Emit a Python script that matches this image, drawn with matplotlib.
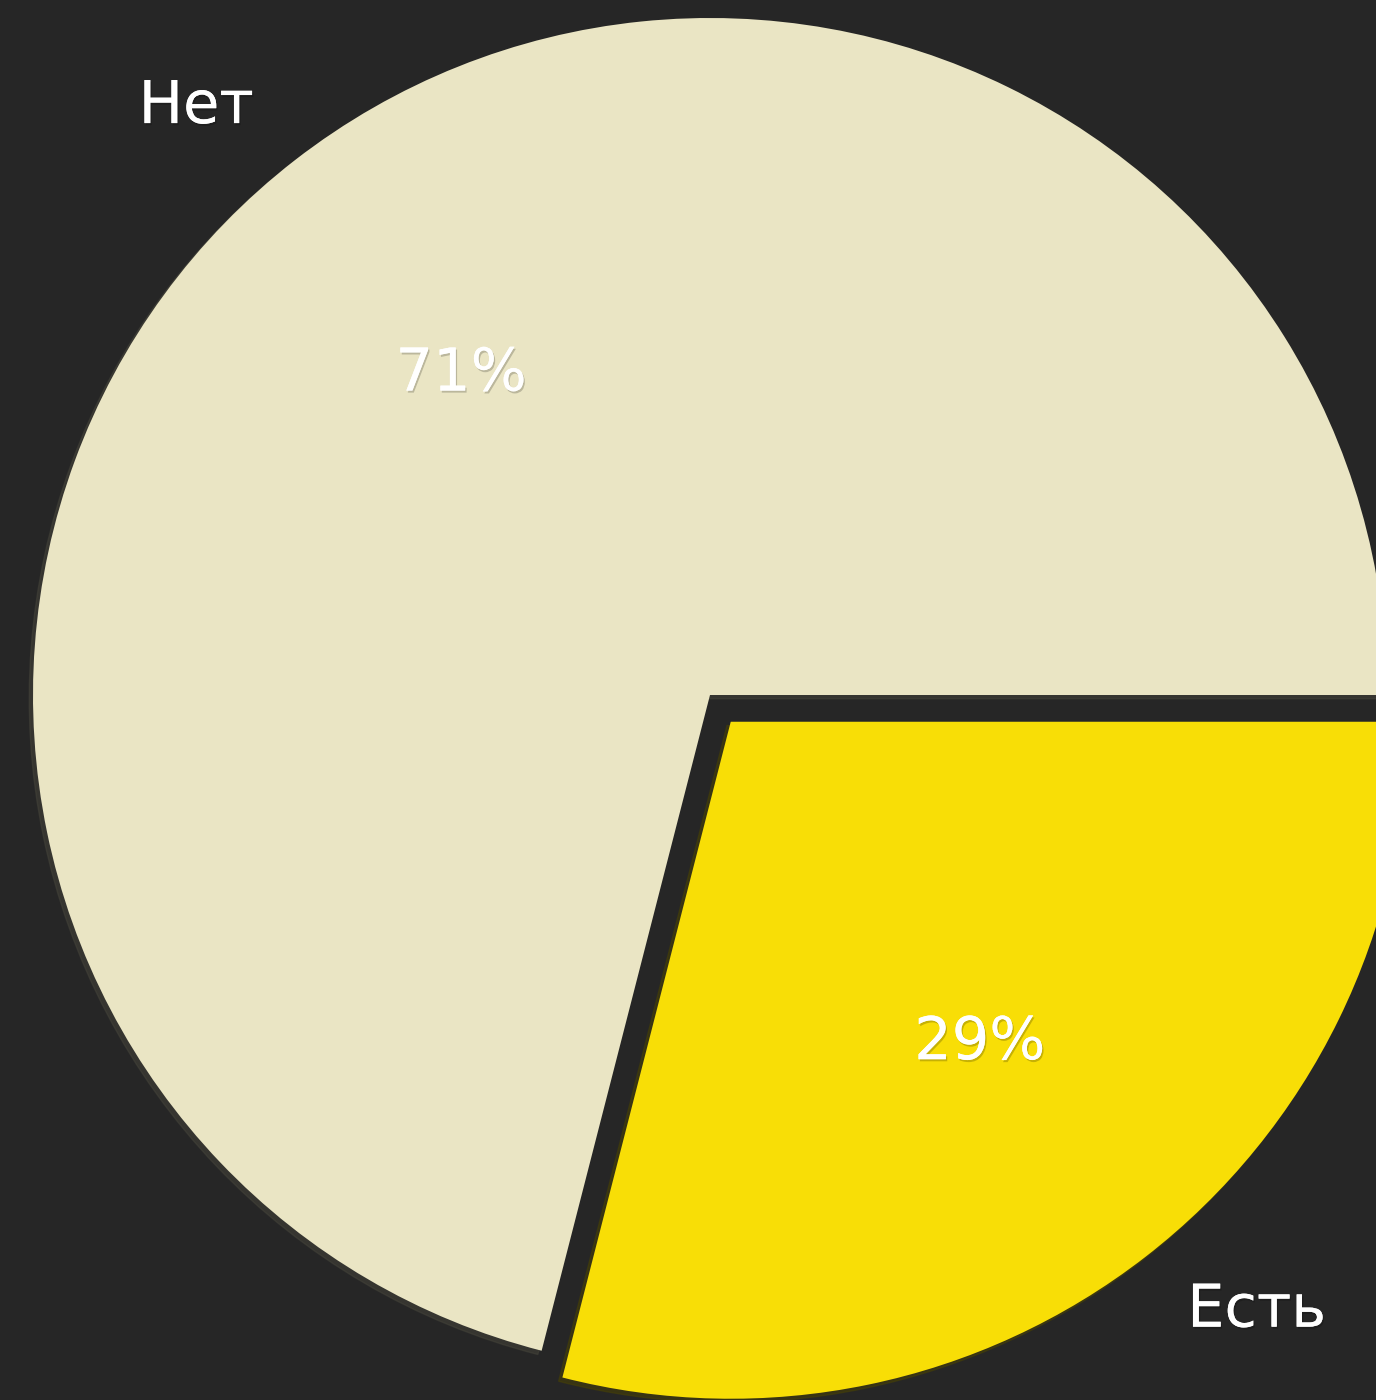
# Pie chart: share of "Есть" vs "Нет" on a dark background

import matplotlib
matplotlib.use("Agg")
import matplotlib.pyplot as plt
import matplotlib.patheffects as pe

# Data
labels = ["Нет", "Есть"]
shares = [71, 29]
explode = [0, 0.05]
colors = ["#eae5c4", "#f8de06"]
bg_color = "#262626"

fig = plt.figure(figsize=(13.76, 14), dpi=100, facecolor=bg_color)
ax = fig.add_axes([0, 0, 1, 1])
ax.set_facecolor(bg_color)

wedges, texts, autotexts = ax.pie(
    shares,
    labels=labels,
    colors=colors,
    explode=explode,
    autopct="%1.0f%%",
    shadow={"ox": -0.004, "oy": -0.004, "alpha": 0.5},
    startangle=0,
    textprops={"fontsize": 42.5, "color": "white"},
)

# subtle dark halo under the texts
for t in list(texts) + list(autotexts):
    t.set_path_effects([pe.withSimplePatchShadow(offset=(1, -1.5), shadow_rgbFace="black", alpha=0.2), pe.Normal()])

# pie radius 1 -> about 677 px, centre near (710, 695) px from the top left
r_px = 677.0
ax.set_xlim(-710 / r_px, (1376 - 710) / r_px)
ax.set_ylim(-(1400 - 695) / r_px, 695 / r_px)
ax.set_aspect("equal")
ax.axis("off")

fig.savefig("out.png", dpi=100, facecolor=bg_color)
